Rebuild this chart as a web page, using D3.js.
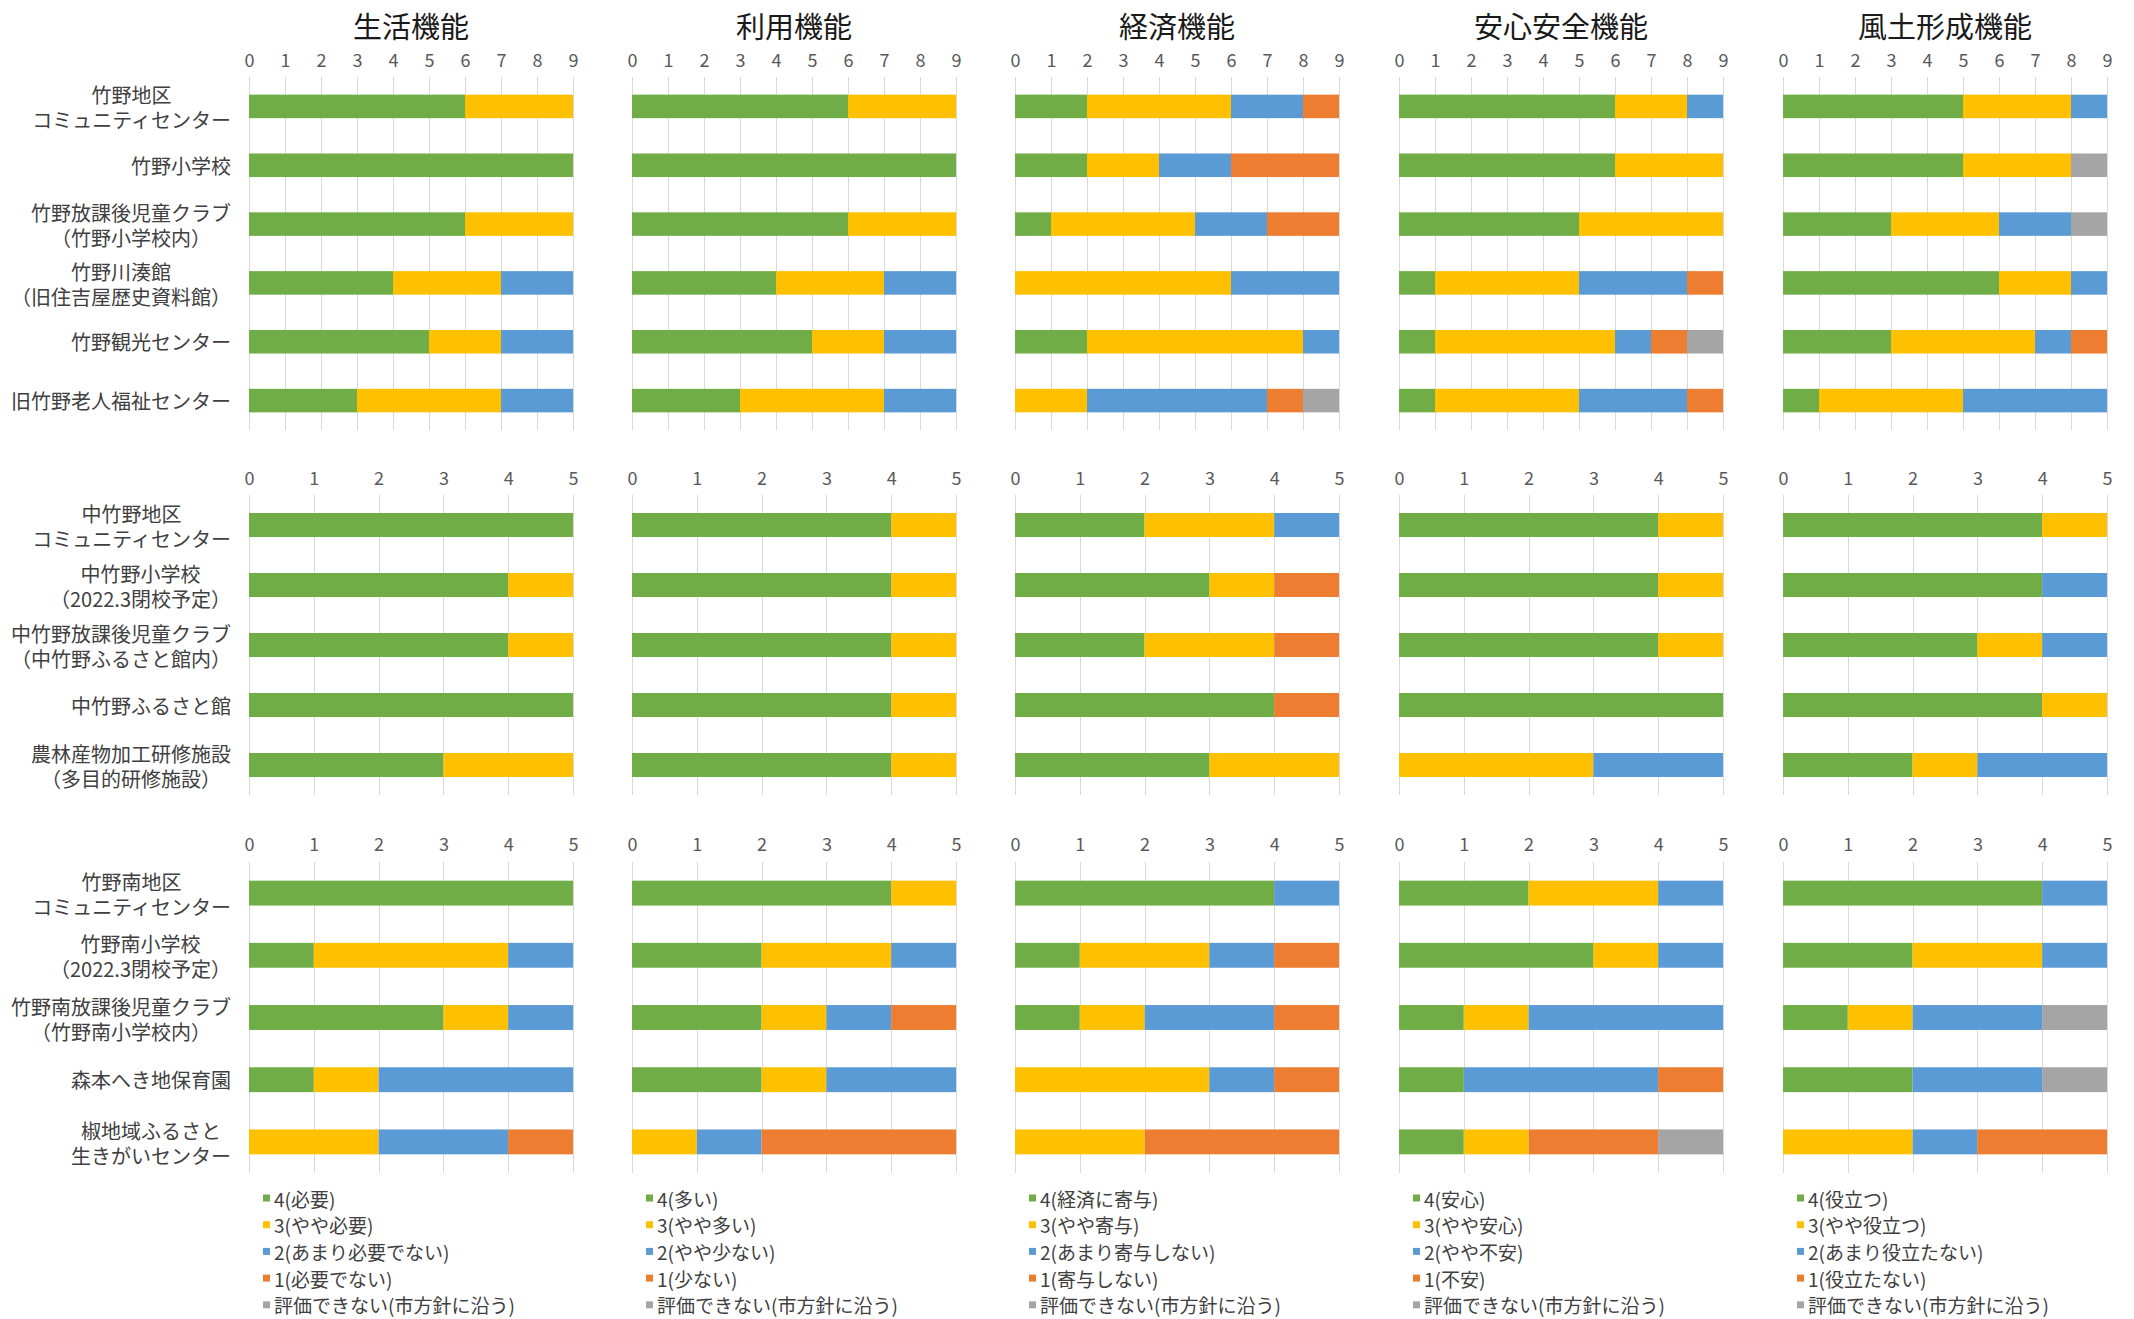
<!DOCTYPE html>
<html><head><meta charset="utf-8">
<script src="https://cdn.jsdelivr.net/npm/d3@7"></script>
<style>
body{margin:0;background:#fff;}
text{font-family:"Noto Sans CJK JP","Noto Sans",sans-serif;}
</style>
</head><body>
<svg id="chart" width="2134" height="1319"></svg>
<script>
// ---------------- DATA ----------------
const functionTitles = ["生活機能", "利用機能", "経済機能", "安心安全機能", "風土形成機能"];
const ratingKeys = ["r4", "r3", "r2", "r1", "na"];
const ratingColors = ["#70AD47", "#FFC000", "#5B9BD5", "#ED7D31", "#A5A5A5"];

const categoriesTakeno = [
  "竹野地区\nコミュニティセンター",
  "竹野小学校",
  "竹野放課後児童クラブ\n（竹野小学校内）",
  "竹野川湊館\n（旧住吉屋歴史資料館）",
  "竹野観光センター",
  "旧竹野老人福祉センター"
];
const categoriesNakatakeno = [
  "中竹野地区\nコミュニティセンター",
  "中竹野小学校\n（2022.3閉校予定）",
  "中竹野放課後児童クラブ\n（中竹野ふるさと館内）",
  "中竹野ふるさと館",
  "農林産物加工研修施設\n（多目的研修施設）"
];
const categoriesTakenoMinami = [
  "竹野南地区\nコミュニティセンター",
  "竹野南小学校\n（2022.3閉校予定）",
  "竹野南放課後児童クラブ\n（竹野南小学校内）",
  "森本へき地保育園",
  "椒地域ふるさと\n生きがいセンター"
];

const ticksTakeno = [0, 1, 2, 3, 4, 5, 6, 7, 8, 9];
const ticksFive = [0, 1, 2, 3, 4, 5];

// counts per facility: [4, 3, 2, 1, 評価できない]
const valuesTakeno = [
  [[6,3,0,0,0],[9,0,0,0,0],[6,3,0,0,0],[4,3,2,0,0],[5,2,2,0,0],[3,4,2,0,0]], // 生活
  [[6,3,0,0,0],[9,0,0,0,0],[6,3,0,0,0],[4,3,2,0,0],[5,2,2,0,0],[3,4,2,0,0]], // 利用
  [[2,4,2,1,0],[2,2,2,3,0],[1,4,2,2,0],[0,6,3,0,0],[2,6,1,0,0],[0,2,5,1,1]], // 経済
  [[6,2,1,0,0],[6,3,0,0,0],[5,4,0,0,0],[1,4,3,1,0],[1,5,1,1,1],[1,4,3,1,0]], // 安心安全
  [[5,3,1,0,0],[5,3,0,0,1],[3,3,2,0,1],[6,2,1,0,0],[3,4,1,1,0],[1,4,4,0,0]]  // 風土形成
];
const valuesNakatakeno = [
  [[5,0,0,0,0],[4,1,0,0,0],[4,1,0,0,0],[5,0,0,0,0],[3,2,0,0,0]],
  [[4,1,0,0,0],[4,1,0,0,0],[4,1,0,0,0],[4,1,0,0,0],[4,1,0,0,0]],
  [[2,2,1,0,0],[3,1,0,1,0],[2,2,0,1,0],[4,0,0,1,0],[3,2,0,0,0]],
  [[4,1,0,0,0],[4,1,0,0,0],[4,1,0,0,0],[5,0,0,0,0],[0,3,2,0,0]],
  [[4,1,0,0,0],[4,0,1,0,0],[3,1,1,0,0],[4,1,0,0,0],[2,1,2,0,0]]
];
const valuesTakenoMinami = [
  [[5,0,0,0,0],[1,3,1,0,0],[3,1,1,0,0],[1,1,3,0,0],[0,2,2,1,0]],
  [[4,1,0,0,0],[2,2,1,0,0],[2,1,1,1,0],[2,1,2,0,0],[0,1,1,3,0]],
  [[4,0,1,0,0],[1,2,1,1,0],[1,1,2,1,0],[0,3,1,1,0],[0,2,0,3,0]],
  [[2,2,1,0,0],[3,1,1,0,0],[1,1,3,0,0],[1,0,3,1,0],[1,1,0,2,1]],
  [[4,0,1,0,0],[2,2,1,0,0],[1,1,2,0,1],[2,0,2,0,1],[0,2,1,2,0]]
];

const legendLabels = [
  ["4(必要)", "3(やや必要)", "2(あまり必要でない)", "1(必要でない)", "評価できない(市方針に沿う)"],
  ["4(多い)", "3(やや多い)", "2(やや少ない)", "1(少ない)", "評価できない(市方針に沿う)"],
  ["4(経済に寄与)", "3(やや寄与)", "2(あまり寄与しない)", "1(寄与しない)", "評価できない(市方針に沿う)"],
  ["4(安心)", "3(やや安心)", "2(やや不安)", "1(不安)", "評価できない(市方針に沿う)"],
  ["4(役立つ)", "3(やや役立つ)", "2(あまり役立たない)", "1(役立たない)", "評価できない(市方針に沿う)"]
];

// ---------------- LAYOUT ----------------
const svg = d3.select("#chart");
const colX0 = [249, 632, 1015, 1399, 1783];
const plotW = 324;
const labelRight = 231;

const groups = [
  {cats: categoriesTakeno, vals: valuesTakeno, ticks: ticksTakeno, tickY: 59, top: 77, bottom: 430},
  {cats: categoriesNakatakeno, vals: valuesNakatakeno, ticks: ticksFive, tickY: 477, top: 495, bottom: 795},
  {cats: categoriesTakenoMinami, vals: valuesTakenoMinami, ticks: ticksFive, tickY: 843, top: 862, bottom: 1173}
];

const color = d3.scaleOrdinal().domain(ratingKeys).range(ratingColors);
const stack = d3.stack().keys(ratingKeys);

// titles
functionTitles.forEach((t, i) => {
  svg.append("text")
    .attr("x", colX0[i] + plotW / 2)
    .attr("y", 25)
    .attr("text-anchor", "middle")
    .attr("dominant-baseline", "central")
    .attr("font-size", 29)
    .attr("fill", "#1a1a1a")
    .text(t);
});

groups.forEach(g => {
  const y = d3.scaleBand().domain(g.cats).range([g.top, g.bottom])
    .paddingInner(0.6).paddingOuter(0.3);
  const maxV = g.ticks[g.ticks.length - 1];

  // category labels
  g.cats.forEach(c => {
    const lines = c.split("\n");
    const grp = svg.append("g");
    const texts = lines.map(l => grp.append("text")
      .attr("text-anchor", "middle")
      .attr("dominant-baseline", "central")
      .attr("font-size", 20)
      .attr("fill", "#404040")
      .text(l));
    const maxW = d3.max(texts, t => t.node().getComputedTextLength());
    const cx = labelRight - maxW / 2;
    const cy = y(c) + y.bandwidth() / 2;
    const lh = 25;
    texts.forEach((t, k) => {
      t.attr("x", cx).attr("y", cy + (k - (lines.length - 1) / 2) * lh + (lines.length > 1 ? 1 : 0));
    });
  });

  functionTitles.forEach((f, i) => {
    const x = d3.scaleLinear().domain([0, maxV]).range([colX0[i], colX0[i] + plotW]);
    const panel = svg.append("g");

    // gridlines
    panel.selectAll("line.grid").data(g.ticks).join("line")
      .attr("x1", d => Math.round(x(d)) + 0.5).attr("x2", d => Math.round(x(d)) + 0.5)
      .attr("y1", g.top).attr("y2", g.bottom)
      .attr("stroke", "#d9d9d9").attr("stroke-width", 1);

    // tick labels via axis
    const axis = d3.axisTop(x).tickValues(g.ticks).tickFormat(d3.format("d")).tickSize(0).tickPadding(0);
    const ax = panel.append("g").attr("transform", `translate(0,${g.tickY})`).call(axis);
    ax.select(".domain").remove();
    ax.selectAll("text")
      .attr("font-size", 18)
      .attr("fill", "#595959")
      .attr("dy", null)
      .attr("dominant-baseline", "central")
      .attr("y", 0)
      .style("font-family", '"Noto Sans CJK JP","Noto Sans",sans-serif');

    // bars
    const rows = g.cats.map((c, k) => {
      const o = {cat: c};
      ratingKeys.forEach((key, j) => o[key] = g.vals[i][k][j]);
      return o;
    });
    const series = stack(rows);
    panel.selectAll("g.series").data(series).join("g")
      .attr("fill", d => color(d.key))
      .selectAll("rect").data(d => d.filter(s => s[1] - s[0] > 0)).join("rect")
      .attr("x", d => x(d[0]))
      .attr("width", d => x(d[1]) - x(d[0]))
      .attr("y", d => y(d.data.cat))
      .attr("height", y.bandwidth());
  });
});

// legends
functionTitles.forEach((f, i) => {
  const lg = svg.append("g").attr("transform", `translate(${colX0[i] + 14},1198)`);
  legendLabels[i].forEach((lab, j) => {
    lg.append("rect")
      .attr("x", 0).attr("y", j * 26.7 - 3.5)
      .attr("width", 7).attr("height", 7)
      .attr("fill", ratingColors[j]);
    lg.append("text")
      .attr("x", 11).attr("y", j * 26.7)
      .attr("dominant-baseline", "central")
      .attr("font-size", 19)
      .attr("fill", "#404040")
      .text(lab);
  });
});
</script>
</body></html>
